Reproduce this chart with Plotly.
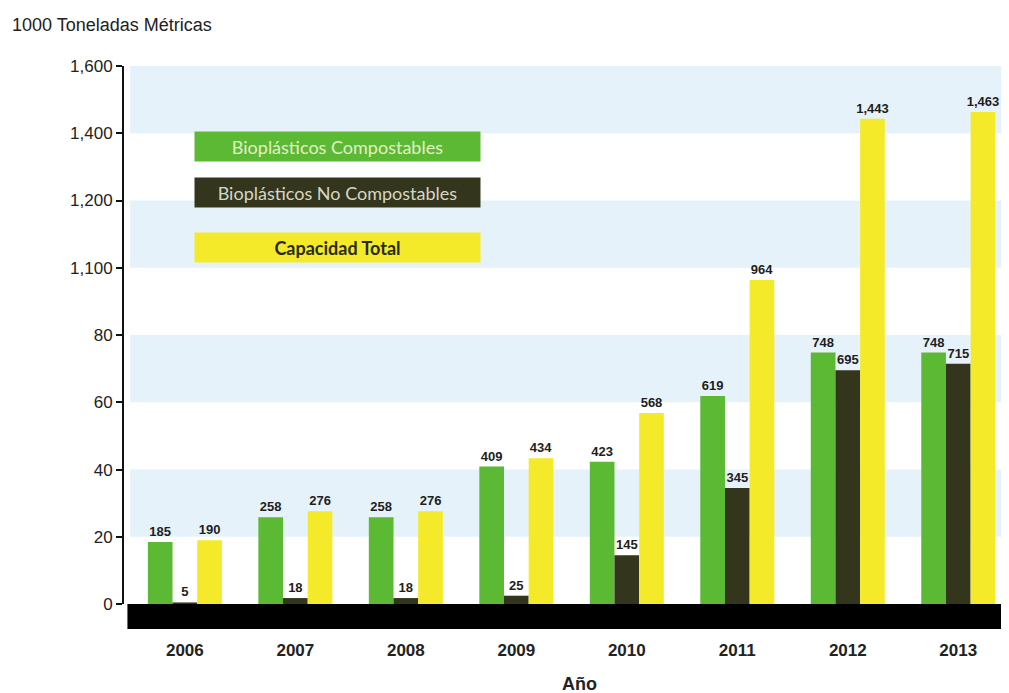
import plotly.graph_objects as go

years = ["2006", "2007", "2008", "2009", "2010", "2011", "2012", "2013"]
compostables = [185, 258, 258, 409, 423, 619, 748, 748]
no_compostables = [5, 18, 18, 25, 145, 345, 695, 715]
capacidad_total = [190, 276, 276, 434, 568, 964, 1443, 1463]

tick_positions = [0, 20, 40, 60, 80, 100, 120, 140, 160]
tick_labels = ["0", "20", "40", "60", "80", "1,100", "1,200", "1,400", "1,600"]

series_names = ["Bioplásticos Compostables", "Bioplásticos No Compostables", "Capacidad Total"]
colors = ["#5cb933", "#33361d", "#f4ea2a"]
legend_text_colors = ["#e4eec8", "#d6d6c6", "#2a2a10"]

SCALE = 10  # the chart draws 1000-t values at 1/10 of their label on its broken axis

fig = go.Figure()
for name, vals, col in zip(series_names, [compostables, no_compostables, capacidad_total], colors):
    fig.add_trace(go.Bar(
        x=years, y=[v / SCALE for v in vals], name=name,
        marker=dict(color=col, line=dict(width=0)),
        text=[f"<b>{v:,}</b>" for v in vals], textposition="outside",
        textfont=dict(family="Liberation Sans", size=13, color="#1e1e1e"),
        constraintext="none", cliponaxis=False, showlegend=False,
    ))

shapes = []
# light blue bands
for y0 in [20, 60, 100, 140]:
    shapes.append(dict(type="rect", xref="paper", yref="y", x0=0.008, x1=1, y0=y0, y1=y0 + 20,
                       fillcolor="#e6f2fa", line=dict(width=0), layer="below"))
# black base band
shapes.append(dict(type="rect", xref="paper", yref="y", x0=0.005, x1=1, y0=-7.4, y1=0,
                   fillcolor="#000000", line=dict(width=0), layer="above"))
# y axis line
shapes.append(dict(type="line", xref="paper", yref="y", x0=0, x1=0, y0=0, y1=160,
                   line=dict(color="#111111", width=2)))

annotations = [
    dict(text="1000 Toneladas Métricas", xref="paper", yref="paper", x=-0.128, y=1.073,
         xanchor="left", yanchor="middle", showarrow=False,
         font=dict(family="Liberation Sans", size=18, color="#222222")),
    dict(text="<b>Año</b>", xref="paper", yref="paper", x=0.516, y=-0.097,
         xanchor="center", yanchor="middle", showarrow=False,
         font=dict(family="Liberation Sans", size=18, color="#222222")),
]
legend_y = [0.857, 0.7753, 0.6785]
for name, col, tcol, ly in zip(series_names, colors, legend_text_colors, legend_y):
    annotations.append(dict(
        text=f"<b>{name}</b>" if name == "Capacidad Total" else name,
        xref="paper", yref="paper", x=0.2424, y=ly, xanchor="center", yanchor="middle",
        showarrow=False, width=283, height=27, bgcolor=col, align="center", valign="middle",
        font=dict(family="Lato", size=18, color=tcol)))

# the page has an 8px body margin, so the figure is sized/offset to compensate
fig.update_layout(
    width=1001, height=685,
    margin=dict(l=115, r=1, t=58, b=64),
    paper_bgcolor="white", plot_bgcolor="white",
    barmode="group", bargap=0.33, bargroupgap=0,
    shapes=shapes, annotations=annotations,
    xaxis=dict(range=[-0.56, 7.45], showgrid=False, zeroline=False, showline=False,
               ticks="outside", ticklen=6, tickcolor="rgba(0,0,0,0)",
               tickfont=dict(family="Liberation Sans", size=17, color="#222222"),
               tickprefix="<b>", ticksuffix="</b>"),
    yaxis=dict(range=[-7.4, 160], tickvals=tick_positions, ticktext=tick_labels,
               showgrid=False, zeroline=False, showline=False,
               ticks="outside", ticklen=6, tickwidth=2, tickcolor="#111111",
               tickfont=dict(family="Liberation Sans", size=17, color="#222222")),
)

fig.write_html("out.html")
